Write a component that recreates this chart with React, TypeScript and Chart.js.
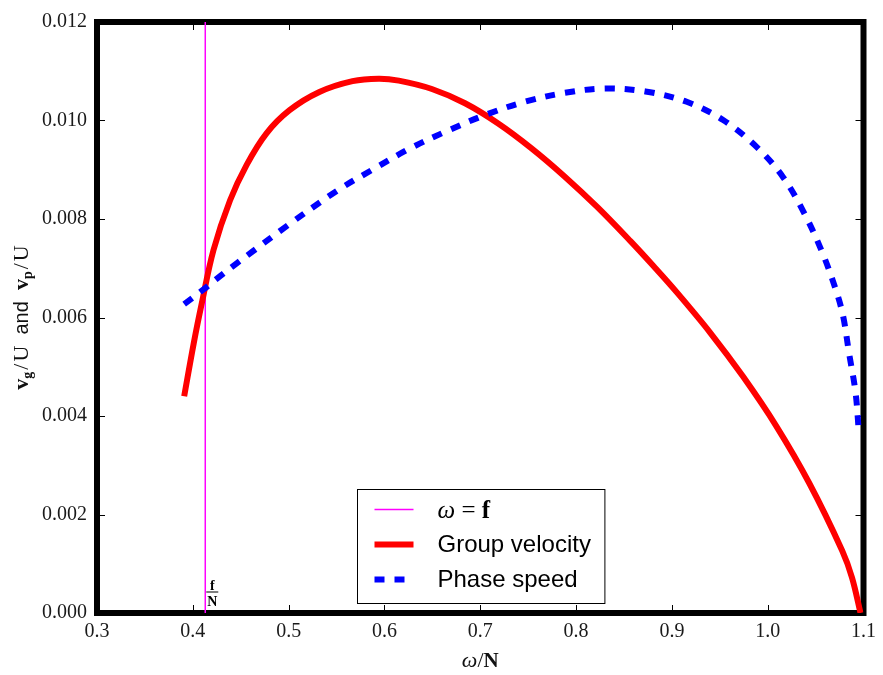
import React, { useEffect, useRef } from "react";
import { Chart, registerables } from "chart.js";

Chart.register(...registerables);

// ---- data ----
const groupX = [0.391, 0.401, 0.4095, 0.4216, 0.4389, 0.4562, 0.4769, 0.501, 0.5321, 0.5667, 0.594, 0.615, 0.6495, 0.6841, 0.7187, 0.7532, 0.7877, 0.8223, 0.8568, 0.881, 0.9052, 0.9397, 0.9743, 1.0088, 1.0433, 1.0779, 1.088, 1.0969];
const groupY = [0.0044, 0.00548, 0.0063, 0.00737, 0.00838, 0.0091, 0.00974, 0.01021, 0.01058, 0.0108, 0.01085, 0.01081, 0.01064, 0.01035, 0.00994, 0.00944, 0.00887, 0.00824, 0.00755, 0.00704, 0.00651, 0.0057, 0.0048, 0.0038, 0.00264, 0.00126, 0.00072, 0.0];

const phaseX = [0.391, 0.4112, 0.4285, 0.4458, 0.463, 0.4976, 0.5494, 0.5873, 0.6254, 0.6634, 0.7049, 0.7463, 0.7877, 0.8292, 0.8724, 0.9155, 0.9535, 0.9881, 1.0157, 1.0381, 1.0572, 1.071, 1.0787, 1.0848, 1.0917, 1.0951];
const phaseY = [0.00627, 0.00657, 0.00684, 0.0071, 0.00735, 0.00785, 0.00856, 0.009, 0.00942, 0.00977, 0.01011, 0.01038, 0.01056, 0.01065, 0.01059, 0.01038, 0.01001, 0.00947, 0.00886, 0.00812, 0.00731, 0.00657, 0.00603, 0.00529, 0.00448, 0.00368];

const fOverN = 0.413;
const fLineY = [0, 0.012];

const xTicks = [0.3, 0.4, 0.5, 0.6, 0.7, 0.8, 0.9, 1.0, 1.1];
const yTicks = [0, 0.002, 0.004, 0.006, 0.008, 0.01, 0.012];

const seriesLabels = ["ω = f", "Group velocity", "Phase speed"];

const SERIF = "'Liberation Serif', 'DejaVu Serif', serif";
const SANS = "'Liberation Sans', Arial, sans-serif";

type Piece = { text: string; font: string; dy?: number; gap?: number };

function drawPieces(ctx: CanvasRenderingContext2D, pieces: Piece[], x: number, y: number, align: "left" | "center") {
  let total = 0;
  const widths = pieces.map((p) => {
    ctx.font = p.font;
    const w = ctx.measureText(p.text).width + (p.gap || 0);
    total += w;
    return w;
  });
  let cx = align === "center" ? x - total / 2 : x;
  ctx.textAlign = "left";
  ctx.textBaseline = "alphabetic";
  pieces.forEach((p, i) => {
    ctx.font = p.font;
    ctx.fillText(p.text, cx, y + (p.dy || 0));
    cx += widths[i];
  });
}

const framePlugin = {
  id: "frame",
  beforeDatasetsDraw(chart: any) {
    const { ctx, chartArea: a, scales } = chart;
    const xs = scales.x;
    const ys = scales.y;
    ctx.save();
    ctx.strokeStyle = "#000";
    ctx.lineWidth = 1;
    ctx.beginPath();
    xs.ticks.forEach((t: any) => {
      const px = Math.round(xs.getPixelForValue(t.value)) + 0.5;
      ctx.moveTo(px, a.bottom);
      ctx.lineTo(px, a.bottom - 8);
      ctx.moveTo(px, a.top);
      ctx.lineTo(px, a.top + 8);
    });
    ys.ticks.forEach((t: any) => {
      const py = Math.round(ys.getPixelForValue(t.value)) + 0.5;
      ctx.moveTo(a.left, py);
      ctx.lineTo(a.left + 8, py);
      ctx.moveTo(a.right, py);
      ctx.lineTo(a.right - 8, py);
    });
    ctx.stroke();
    ctx.lineWidth = 6;
    ctx.strokeRect(a.left, a.top, a.right - a.left, a.bottom - a.top);
    ctx.restore();
  },
};

const annotPlugin = {
  id: "annot",
  afterDraw(chart: any) {
    const { ctx, chartArea: a, scales } = chart;
    const xs = scales.x;
    ctx.save();
    ctx.fillStyle = "#000";

    // f/N fraction label beside the vertical line
    const fx = xs.getPixelForValue(fOverN) + 7;
    ctx.textAlign = "center";
    ctx.textBaseline = "alphabetic";
    ctx.font = `bold 14px ${SERIF}`;
    ctx.fillText("f", fx, a.bottom - 23);
    ctx.fillRect(fx - 6, a.bottom - 21.5, 12, 1);
    ctx.font = `bold 14px ${SERIF}`;
    ctx.fillText("N", fx, a.bottom - 7);

    // x axis title
    ctx.fillStyle = "#111";
    drawPieces(
      ctx,
      [
        { text: "ω", font: `italic 22px ${SERIF}` },
        { text: "/", font: `22px ${SERIF}` },
        { text: "N", font: `bold 21px ${SERIF}` },
      ],
      (a.left + a.right) / 2,
      667,
      "center"
    );

    // y axis title (rotated)
    ctx.save();
    ctx.translate(28, (a.top + a.bottom) / 2);
    ctx.rotate(-Math.PI / 2);
    drawPieces(
      ctx,
      [
        { text: "v", font: `bold 22px ${SERIF}` },
        { text: "g", font: `bold 14px ${SERIF}`, dy: 4, gap: 2 },
        { text: "/", font: `22px ${SERIF}`, gap: 2 },
        { text: "U", font: `22px ${SERIF}` },
        { text: "  and  ", font: `20px ${SANS}` },
        { text: "v", font: `bold 22px ${SERIF}` },
        { text: "p", font: `bold 14px ${SERIF}`, dy: 4, gap: 2 },
        { text: "/", font: `22px ${SERIF}`, gap: 2 },
        { text: "U", font: `22px ${SERIF}` },
      ],
      0,
      0,
      "center"
    );
    ctx.restore();

    // legend (lower center)
    const ds = chart.data.datasets;
    ctx.font = `24px ${SANS}`;
    let maxW = 0;
    seriesLabels.forEach((l) => {
      maxW = Math.max(maxW, ctx.measureText(l).width);
    });
    const boxW = 80 + maxW + 14;
    const boxH = 114;
    const bx = Math.round((a.left + a.right) / 2 - boxW / 2) + 0.5;
    const by = Math.round(a.bottom - 10 - boxH) + 0.5;
    ctx.fillStyle = "#fff";
    ctx.fillRect(bx, by, boxW, boxH);
    ctx.strokeStyle = "#000";
    ctx.lineWidth = 1;
    ctx.strokeRect(bx, by, boxW, boxH);

    const order = [2, 0, 1]; // dataset index for magenta, red, blue
    order.forEach((di, row) => {
      const d = ds[di];
      const cy = by + 20 + row * 35;
      ctx.save();
      ctx.strokeStyle = d.borderColor;
      ctx.lineWidth = Math.max(d.borderWidth, 1.5);
      ctx.lineCap = "butt";
      ctx.setLineDash(d.borderDash || []);
      ctx.beginPath();
      ctx.moveTo(bx + 17, cy);
      ctx.lineTo(bx + 56, cy);
      ctx.stroke();
      ctx.restore();
      ctx.fillStyle = "#000";
      if (row === 0) {
        drawPieces(
          ctx,
          [
            { text: "ω", font: `italic 25px ${SERIF}` },
            { text: " = ", font: `25px ${SERIF}` },
            { text: "f", font: `bold 25px ${SERIF}` },
          ],
          bx + 80,
          cy + 8,
          "left"
        );
      } else {
        ctx.font = `24px ${SANS}`;
        ctx.textAlign = "left";
        ctx.textBaseline = "middle";
        ctx.fillText(d.label, bx + 80, cy + 1);
      }
    });
    ctx.restore();
  },
};

export default function App() {
  const ref = useRef<HTMLCanvasElement | null>(null);

  useEffect(() => {
    if (!ref.current) return;
    const chart = new Chart(ref.current, {
      type: "line",
      data: {
        datasets: [
          {
            label: seriesLabels[1],
            data: groupX.map((x, i) => ({ x, y: groupY[i] })),
            borderColor: "#ff0000",
            borderWidth: 6,
            pointRadius: 0,
            fill: false,
            tension: 0.35,
            order: 2,
          },
          {
            label: seriesLabels[2],
            data: phaseX.map((x, i) => ({ x, y: phaseY[i] })),
            borderColor: "#0000ff",
            borderWidth: 6,
            borderDash: [10, 10],
            borderCapStyle: "butt",
            pointRadius: 0,
            fill: false,
            tension: 0.35,
            order: 1,
          },
          {
            label: seriesLabels[0],
            data: fLineY.map((y) => ({ x: fOverN, y })),
            borderColor: "#ff00ff",
            borderWidth: 1.5,
            pointRadius: 0,
            fill: false,
            order: 3,
          },
        ],
      } as any,
      options: {
        animation: false,
        responsive: false,
        layout: { padding: { left: 0, right: 14, top: 19, bottom: 0 } },
        plugins: {
          legend: { display: false },
          tooltip: { enabled: false },
        },
        scales: {
          x: {
            type: "linear",
            min: 0.3,
            max: 1.1,
            grid: { display: false, drawTicks: false },
            border: { display: false },
            afterBuildTicks: (s: any) => {
              s.ticks = xTicks.map((v) => ({ value: v }));
            },
            afterFit: (s: any) => {
              s.height = 62;
            },
            ticks: {
              padding: 7,
              color: "#1a1a1a",
              font: { family: SERIF, size: 20 },
              maxRotation: 0,
              autoSkip: false,
              callback: (v: any) => Number(v).toFixed(1),
            },
          },
          y: {
            type: "linear",
            min: 0,
            max: 0.012,
            grid: { display: false, drawTicks: false },
            border: { display: false },
            afterBuildTicks: (s: any) => {
              s.ticks = yTicks.map((v) => ({ value: v }));
            },
            afterFit: (s: any) => {
              s.width = 97;
            },
            ticks: {
              padding: 10,
              color: "#1a1a1a",
              font: { family: SERIF, size: 20 },
              autoSkip: false,
              callback: (v: any) => Number(v).toFixed(3),
            },
          },
        },
      } as any,
      plugins: [framePlugin, annotPlugin],
    });
    return () => chart.destroy();
  }, []);

  return (
    <div style={{ position: "absolute", left: 0, top: 0, width: 883, height: 675, background: "#fff" }}>
      <canvas ref={ref} width={883} height={675} style={{ display: "block" }} />
    </div>
  );
}
